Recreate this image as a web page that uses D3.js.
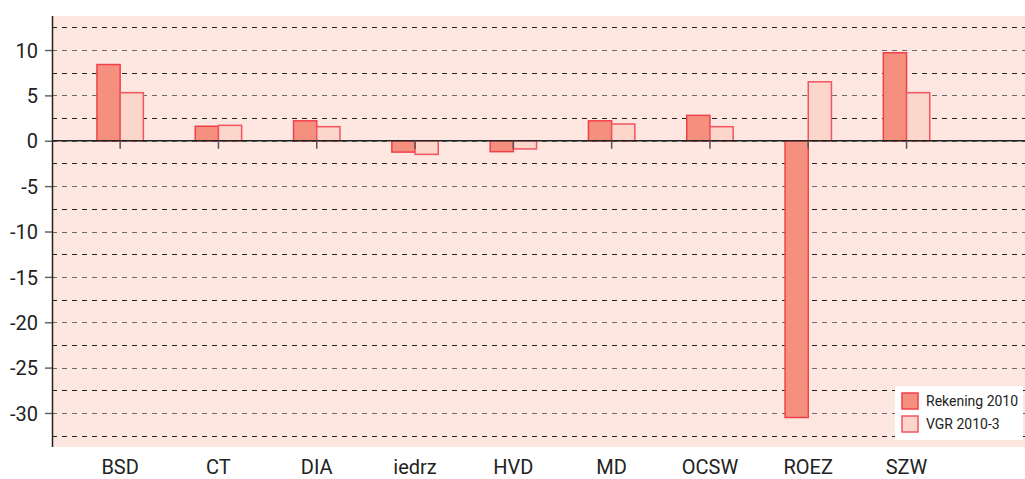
<!DOCTYPE html>
<html>
<head>
<meta charset="utf-8">
<script src="https://cdn.jsdelivr.net/npm/d3@7"></script>
<style>
  body { margin: 0; background: #fff; }
  text { font-family: Roboto, "Liberation Sans", sans-serif; fill: #222; }
</style>
</head>
<body>
<script>
/*
DATA
*/
const categories = ["BSD", "CT", "DIA", "iedrz", "HVD", "MD", "OCSW", "ROEZ", "SZW"]
const rekening2010 = [8.4, 1.6, 2.2, -1.25, -1.2, 2.2, 2.8, -30.5, 9.7]
const vgr2010 = [5.3, 1.7, 1.55, -1.5, -0.9, 1.85, 1.55, 6.5, 5.3]
const seriesNames = ["Rekening 2010", "VGR 2010-3"]
const yTicks = [10, 5, 0, -5, -10, -15, -20, -25, -30]

/*
SET UP
*/
const w = 1025
const h = 479
const plot = {top: 16, left: 52, right: 1025, bottom: 447}

const svg = d3.select("body")
  .append("svg")
  .attr("width", w)
  .attr("height", h)

const y = d3.scaleLinear()
  .domain([13.75, -33.75])
  .range([plot.top, plot.bottom])

const x = d3.scaleBand()
  .domain(categories)
  .range([71, 71 + 9 * 98.3])

const barW = x.bandwidth() * 0.236

// background
svg.append("rect")
  .attr("x", plot.left)
  .attr("y", plot.top)
  .attr("width", plot.right - plot.left)
  .attr("height", plot.bottom - plot.top)
  .attr("fill", "#fde7e0")

// dashed grid every 2.5
const grid = d3.range(12.5, -33.75, -2.5)
svg.selectAll(".grid")
  .data(grid)
  .join("line")
  .attr("x1", plot.left)
  .attr("x2", plot.right)
  .attr("y1", (d) => Math.round(y(d)) + 0.5)
  .attr("y2", (d) => Math.round(y(d)) + 0.5)
  .attr("stroke", (d) => d % 5 === 0 ? "#6a6a6a" : "#222")
  .attr("stroke-dasharray", "5,5")
  .attr("stroke-width", 1.2)

// y axis
const yAxis = d3.axisLeft(y)
  .tickValues(yTicks)
  .tickSize(7)
  .tickPadding(7)
  .tickFormat((d) => String(d))

const gy = svg.append("g")
  .attr("transform", `translate(${plot.left},0)`)
  .call(yAxis)
gy.select(".domain").remove()
gy.selectAll(".tick line").attr("stroke", "#666").attr("stroke-width", 1.5)
gy.selectAll(".tick text")
  .style("font-size", "20px")
  .attr("fill", "#222")
  .attr("dy", "0.36em")

svg.append("line")
  .attr("x1", plot.left + 0.5).attr("x2", plot.left + 0.5)
  .attr("y1", plot.top).attr("y2", plot.bottom)
  .attr("stroke", "#222")
  .attr("stroke-width", 1.5)

// bars
const fills = ["#f58f7e", "#fcd5cb"]
const strokes = ["#f0404c", "#f25560"]
const series = [rekening2010, vgr2010]

series.forEach((vals, s) => {
  svg.selectAll(".bar-" + s)
    .data(vals)
    .join("rect")
    .attr("class", "bar-" + s)
    .attr("x", (d, i) => x(categories[i]) + x.bandwidth() / 2 - barW + s * barW)
    .attr("y", (d) => y(Math.max(0, d)))
    .attr("width", barW)
    .attr("height", (d) => Math.abs(y(d) - y(0)))
    .attr("fill", fills[s])
    .attr("stroke", strokes[s])
    .attr("stroke-width", 1.5)
})

// zero line + x ticks
svg.append("line")
  .attr("x1", plot.left).attr("x2", plot.right)
  .attr("y1", y(0)).attr("y2", y(0))
  .attr("stroke", "#222")
  .attr("stroke-width", 1.5)

const xAxis = d3.axisBottom(x).tickSize(8).tickFormat("")
const gx = svg.append("g")
  .attr("transform", `translate(0,${y(0)})`)
  .call(xAxis)
gx.select(".domain").remove()
gx.selectAll(".tick line").attr("stroke", "#555").attr("stroke-width", 1.5)

svg.selectAll(".cat")
  .data(categories)
  .join("text")
  .attr("x", (d) => x(d) + x.bandwidth() / 2)
  .attr("y", 474)
  .attr("text-anchor", "middle")
  .style("font-size", "20px")
  .text((d) => d)

// legend
const lg = svg.append("g").attr("transform", "translate(895,386)")
lg.append("rect")
  .attr("width", 128).attr("height", 54)
  .attr("fill", "#fff")
seriesNames.forEach((n, s) => {
  lg.append("rect")
    .attr("x", 7).attr("y", 7 + s * 23)
    .attr("width", 16).attr("height", 16)
    .attr("fill", fills[s])
    .attr("stroke", strokes[s])
    .attr("stroke-width", 1.5)
  lg.append("text")
    .attr("x", 31).attr("y", 20 + s * 23)
    .style("font-size", "14px")
    .text(n)
})
</script>
</body>
</html>
